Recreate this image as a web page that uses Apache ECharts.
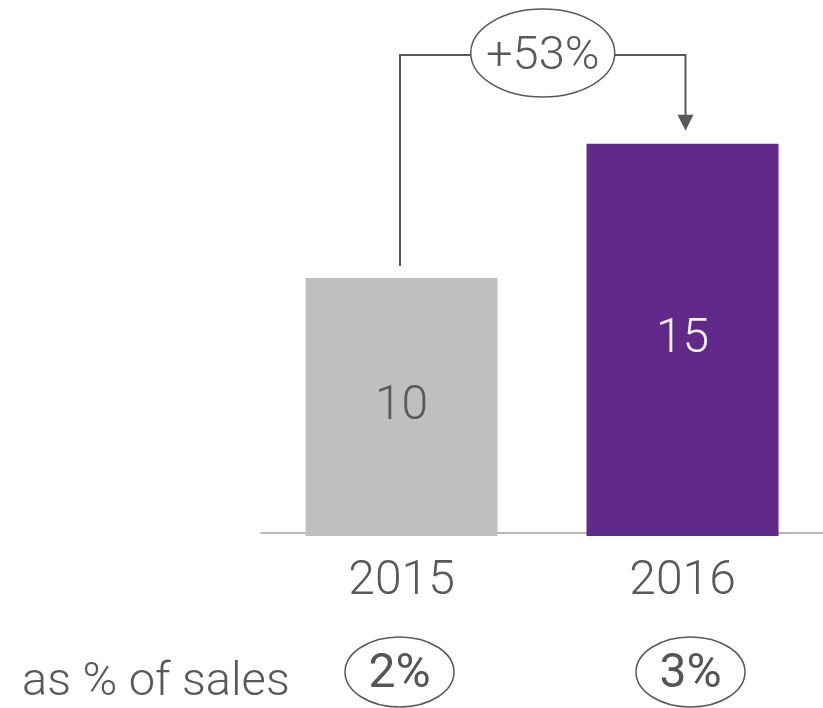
<!DOCTYPE html>
<html>
<head>
<meta charset="utf-8">
<script src="https://cdn.jsdelivr.net/npm/echarts@6/dist/echarts.min.js"></script>
<style>
  html, body { margin: 0; padding: 0; background: #fff; }
  #chart { width: 823px; height: 708px; }
</style>
</head>
<body>
<div id="chart"></div>
<script>
// data
const categories = ['2015', '2016']
const spend = [10, 15.2]
const barLabels = ['10', '15']
const barColors = ['#bfbfbf', '#60298a']
const labelColors = ['#595959', '#f2f2f2']
const shareOfSales = ['2%', '3%']
const growthLabel = '+53%'
const rowTitle = 'as % of sales'

const FONT = 'Roboto'
const INK = '#595959'

const chart = echarts.init(document.getElementById('chart'))

chart.setOption({
  animation: false,
  grid: {
    left: 261,
    right: -2,
    top: 20,
    bottom: 172
  },
  xAxis: {
    type: 'category',
    data: categories,
    offset: -3,
    axisLine: {
      show: true,
      lineStyle: { color: '#9d9fa9', width: 1.5 }
    },
    axisTick: { show: false },
    axisLabel: {
      margin: 25,
      fontFamily: FONT,
      fontWeight: 300,
      fontSize: 48,
      color: INK
    }
  },
  yAxis: {
    type: 'value',
    min: 0,
    max: 20,
    show: false,
    splitLine: { show: false }
  },
  series: [
    {
      type: 'bar',
      barWidth: 192,
      data: spend.map(function (v, i) {
        return {
          value: v,
          itemStyle: { color: barColors[i] },
          label: { color: labelColors[i] }
        }
      }),
      label: {
        show: true,
        position: 'inside',
        fontFamily: FONT,
        fontWeight: 300,
        fontSize: 48,
        formatter: function (p) {
          return barLabels[p.dataIndex]
        }
      }
    }
  ]
})

// bracket, growth bubble and the bottom row, placed from the axes
const top1 = chart.convertToPixel({ gridIndex: 0 }, [0, spend[0]])
const top2 = chart.convertToPixel({ gridIndex: 0 }, [1, spend[1]])
const xa = top1[0] - 1.5
const xb = top2[0] + 3
const yBar = 55
const midX = (xa + xb) / 2

const graphics = [
  {
    type: 'polyline',
    z: 10,
    shape: {
      points: [[xa, top1[1] - 12], [xa, yBar], [xb, yBar], [xb, top2[1] - 27]]
    },
    style: { stroke: INK, lineWidth: 2, fill: null }
  },
  {
    type: 'polygon',
    z: 10,
    shape: {
      points: [[xb - 8, top2[1] - 29], [xb + 8, top2[1] - 29], [xb, top2[1] - 13]]
    },
    style: { fill: INK }
  },
  {
    type: 'ellipse',
    z: 11,
    shape: { cx: midX, cy: 53, rx: 72, ry: 44 },
    style: { fill: '#fff', stroke: INK, lineWidth: 1.5 }
  },
  {
    type: 'text',
    z: 12,
    x: midX,
    y: 57,
    style: {
      text: growthLabel,
      fontFamily: FONT,
      fontWeight: 300,
      fontSize: 47,
      fill: INK,
      align: 'center',
      verticalAlign: 'middle'
    }
  },
  {
    type: 'text',
    z: 12,
    x: 22,
    y: 707,
    style: {
      text: rowTitle,
      fontFamily: FONT,
      fontWeight: 300,
      fontSize: 47,
      fill: INK,
      align: 'left',
      verticalAlign: 'bottom'
    }
  }
]

shareOfSales.forEach(function (s, i) {
  const cx = chart.convertToPixel({ gridIndex: 0 }, [i, 0])[0] + (i === 0 ? -2 : 8)
  graphics.push({
    type: 'ellipse',
    z: 11,
    shape: { cx: cx, cy: 672, rx: 54.5, ry: 35 },
    style: { fill: '#fff', stroke: INK, lineWidth: 1.5 }
  })
  graphics.push({
    type: 'text',
    z: 12,
    x: cx,
    y: 675,
    style: {
      text: s,
      fontFamily: FONT,
      fontSize: 48,
      fill: '#555',
      align: 'center',
      verticalAlign: 'middle'
    }
  })
})

chart.setOption({ graphic: graphics })
</script>
</body>
</html>
